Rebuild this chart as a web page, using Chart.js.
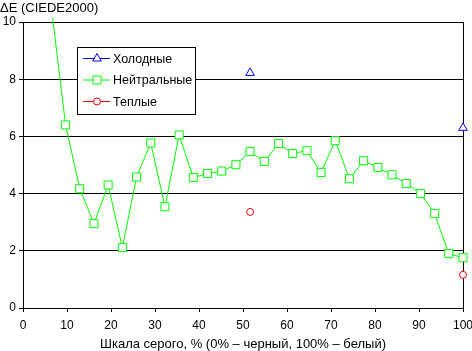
<!DOCTYPE html>
<html><head><meta charset="utf-8">
<script src="https://cdn.jsdelivr.net/npm/chart.js@4/dist/chart.umd.min.js"></script>
<style>html,body{margin:0;padding:0;background:#fff}#wrap{width:472px;height:351px}</style>
</head><body><div id="wrap"><canvas id="c" width="472" height="351"></canvas></div>
<script>
const grayX = [6.45, 9.68, 12.9, 16.13, 19.35, 22.58, 25.81, 29.03, 32.26, 35.48, 38.71, 41.94, 45.16, 48.39, 51.61, 54.84, 58.06, 61.29, 64.52, 67.74, 70.97, 74.19, 77.42, 80.65, 83.87, 87.1, 90.32, 93.55, 96.77, 100];
const neutral = [10.5, 6.40, 4.17, 2.95, 4.30, 2.11, 4.58, 5.77, 3.54, 6.05, 4.56, 4.70, 4.79, 5.01, 5.47, 5.12, 5.75, 5.40, 5.50, 4.74, 5.85, 4.52, 5.15, 4.91, 4.66, 4.35, 4.00, 3.30, 1.90, 1.76];
const coldX = [51.61, 100];
const cold = [8.22, 6.30];
const warmX = [51.61, 100];
const warm = [3.36, 1.16];
const seriesNames = ['Холодные', 'Нейтральные', 'Теплые'];
const yTitle = 'ΔE (CIEDE2000)';
const xTitle = 'Шкала серого, % (0% – черный, 100% – белый)';
const FONT = '"Liberation Sans", Arial, sans-serif';

const pts = (xs, ys) => xs.map((x, i) => ({x, y: ys[i]}));

const legendPlugin = {
  id: 'boxLegend',
  afterDraw(chart) {
    const ctx = chart.ctx;
    const ca = chart.chartArea;
    const x0 = ca.left + 54, y0 = ca.top + 25, w = 118, h = 67;
    ctx.save();
    ctx.fillStyle = '#fff';
    ctx.fillRect(x0, y0, w, h);
    ctx.strokeStyle = '#000'; ctx.lineWidth = 1;
    ctx.strokeRect(x0 + 0.5, y0 + 0.5, w, h);
    chart.data.datasets.forEach((ds, i) => {
      const cy = y0 + 11.5 + i * 21.5;
      ctx.strokeStyle = ds.borderColor; ctx.lineWidth = 1;
      ctx.beginPath(); ctx.moveTo(x0 + 6, cy); ctx.lineTo(x0 + 33, cy); ctx.stroke();
      ctx.fillStyle = '#fff';
      ctx.strokeStyle = ds.borderColor;
      Chart.helpers.drawPoint(ctx, {pointStyle: ds.pointStyle, radius: ds.pointRadius, borderWidth: 1}, x0 + 20, cy);
      ctx.fillStyle = '#000';
      ctx.font = '12.5px ' + FONT;
      ctx.textBaseline = 'middle';
      ctx.fillText(ds.label, x0 + 36, cy + 1);
    });
    ctx.fillStyle = '#000';
    ctx.font = '13px ' + FONT;
    ctx.textBaseline = 'middle';
    ctx.fillText(yTitle, 0, 8);
    ctx.restore();
  }
};

new Chart(document.getElementById('c'), {
  type: 'scatter',
  data: {
    datasets: [
      {label: seriesNames[0], data: pts(coldX, cold), showLine: false, borderColor: '#0000ff', backgroundColor: '#ffffff', pointStyle: 'triangle', pointRadius: 5, borderWidth: 1, pointBorderWidth: 1, clip: false},
      {label: seriesNames[1], data: pts(grayX, neutral), showLine: true, borderColor: '#00ff00', backgroundColor: '#ffffff', pointStyle: 'rect', pointRadius: 5.7, borderWidth: 1, pointBorderWidth: 1, clip: {top: 4, left: 0, right: 8, bottom: 0}},
      {label: seriesNames[2], data: pts(warmX, warm), showLine: false, borderColor: '#ff0000', backgroundColor: '#ffffff', pointStyle: 'circle', pointRadius: 3.5, borderWidth: 1, pointBorderWidth: 1, clip: false}
    ]
  },
  options: {
    responsive: false,
    animation: false,
    devicePixelRatio: 1,
    layout: {padding: {top: 22, right: 9, left: 0, bottom: 0}},
    plugins: {legend: {display: false}, tooltip: {enabled: false}},
    scales: {
      x: {
        type: 'linear', min: 0, max: 100,
        afterFit(s) { s.height = 43; s.paddingRight = 0; s.paddingLeft = 0; },
        ticks: {stepSize: 10, color: '#000', font: {family: FONT, size: 12}, padding: 6, maxRotation: 0},
        grid: {color: c => c.tick && c.tick.value === 100 ? '#000' : 'rgba(0,0,0,0)', tickColor: '#000', tickLength: 4, drawTicks: true, lineWidth: 1},
        border: {display: true, color: '#000', width: 1},
        title: {display: true, text: xTitle, color: '#000', font: {family: FONT, size: 13}, padding: {top: 0, bottom: -1}}
      },
      y: {
        min: 0, max: 10,
        afterFit(s) { s.width = 23; s.paddingTop = 0; s.paddingBottom = 0; },
        ticks: {stepSize: 2, color: '#000', font: {family: FONT, size: 12}, padding: 3},
        grid: {color: '#000', tickColor: '#000', tickLength: 4, lineWidth: 1},
        border: {display: true, color: '#000', width: 1}
      }
    }
  },
  plugins: [legendPlugin]
});
</script></body></html>
